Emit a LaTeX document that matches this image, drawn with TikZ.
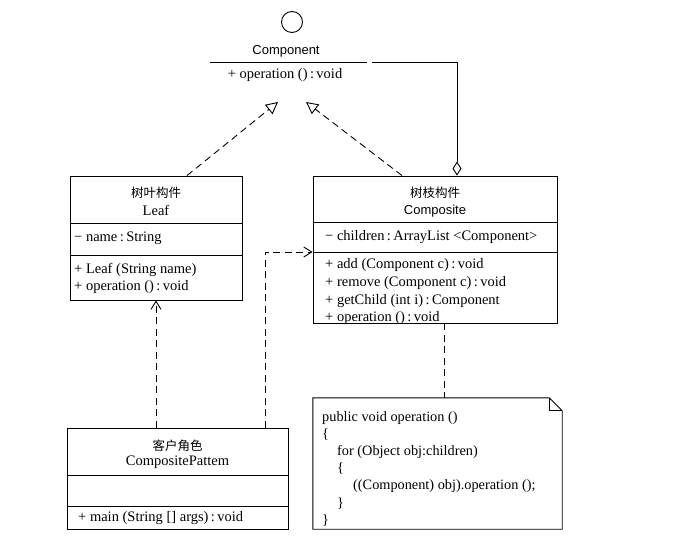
\documentclass[tikz,border=0pt]{standalone}
\usepackage{fontspec}
\setmainfont{Liberation Serif}
\newfontfamily\sansf{Liberation Sans}
\newfontfamily\cjk{Noto Sans CJK SC}
\usetikzlibrary{arrows.meta,calc}
\newcommand{\cln}{\,:\,}

\begin{document}
\begin{tikzpicture}[x=1pt,y=-1pt,
  lw/.style={line width=0.9pt},
  umlbox/.style={draw,lw,inner sep=0pt,fill=white},
  txt/.style={inner sep=0pt,anchor=west,font=\fontsize{14.5}{17}\selectfont},
  ctxt/.style={inner sep=0pt,font=\fontsize{14.5}{17}\selectfont},
  stxt/.style={inner sep=0pt,font=\sansf\fontsize{13}{16}\selectfont},
  cjktxt/.style={inner sep=0pt,font=\cjk\fontsize{12.5}{14}\selectfont},
  dashline/.style={lw,dash pattern=on 7pt off 4.5pt},
  dep/.style={dashline,-{Straight Barb[length=8pt,width=10pt,line width=0.9pt]}},
  realz/.style={dashline,-{Triangle[open,length=12pt,width=12pt,line width=0.9pt]}},
  agg/.style={lw,{Diamond[open,length=14pt,width=9pt,line width=0.9pt]}-}
]
\useasboundingbox (0,0) rectangle (684,549);
\fill[white] (0,0) rectangle (684,549);

% Component interface
\node[draw,lw,circle,minimum size=21pt,inner sep=0pt] (iface) at (292,22) {};
\node[stxt] (cname) at (286,51) {Component};
\coordinate (cl) at (210,62);
\coordinate (cr) at (367,62);
\draw[lw] (cl) -- (cr);
\node[ctxt] (cop) at (285,75) {+ operation ()\cln void};
\coordinate (tipL) at (278,102);
\coordinate (tipR) at (306,102);
\coordinate (aggstart) at (372,62);
\coordinate (aggcorner) at (457,62);

% Leaf
\node[umlbox,minimum width=172pt,minimum height=124pt] (leaf) at (156,238) {};
\draw[lw] (leaf.west |- 0,223) -- (leaf.east |- 0,223);
\draw[lw] (leaf.west |- 0,255) -- (leaf.east |- 0,255);
\node[cjktxt] (leafcn) at (156,193) {树叶构件};
\node[ctxt] (leafn) at (156,210) {Leaf};
\node[txt] (leafa) at (74,238) {− name\cln String};
\node[txt] (leafm1) at (74,270) {+ Leaf (String name)};
\node[txt] (leafm2) at (74,287) {+ operation ()\cln void};

% Composite
\node[umlbox,minimum width=244pt,minimum height=147pt] (comp) at (435,249.5) {};
\draw[lw] (comp.west |- 0,222) -- (comp.east |- 0,222);
\draw[lw] (comp.west |- 0,252) -- (comp.east |- 0,252);
\node[cjktxt] (compcn) at (435,193) {树枝构件};
\node[stxt] (compn) at (435,211) {Composite};
\node[txt] (compa) at (325,237) {− children\cln ArrayList <Component>};
\node[txt] (compm1) at (325,265) {+ add (Component c)\cln void};
\node[txt] (compm2) at (325,283) {+ remove (Component c)\cln void};
\node[txt] (compm3) at (325,301) {+ getChild (int i)\cln Component};
\node[txt] (compm4) at (325,318) {+ operation ()\cln void};

% Client
\node[umlbox,minimum width=221pt,minimum height=101pt] (client) at (177.5,478.5) {};
\draw[lw] (client.west |- 0,475) -- (client.east |- 0,475);
\draw[lw] (client.west |- 0,506) -- (client.east |- 0,506);
\node[cjktxt] (clientcn) at (177.5,446) {客户角色};
\node[ctxt] (clientn) at (177.5,462) {CompositePattem};
\node[txt] (clientm) at (78,518) {+ main (String [] args)\cln void};

% Note
\node[inner sep=0pt,minimum width=249pt,minimum height=131pt] (note) at (437.5,463.5) {};
\draw[lw,fill=white] (note.north west) -- ($(note.north east)+(-13,0)$) -- ($(note.north east)+(0,13)$) -- (note.south east) -- (note.south west) -- cycle;
\draw[lw] ($(note.north east)+(-13,0)$) -- ($(note.north east)+(-13,13)$) -- ($(note.north east)+(0,13)$);
\node[inner sep=0pt,anchor=north west,align=left,font=\fontsize{14.3}{17.2}\selectfont] (notetext) at (322,411)
 {public void operation ()\\ \{\\ \hspace*{15pt}for (Object obj:children)\\ \hspace*{15pt}\{\\ \hspace*{31pt}((Component) obj).operation ();\\ \hspace*{15pt}\}\\ \}};

% Connectors
\draw[realz] ($(leaf.north)+(31,0)$) -- (tipL);
\draw[realz] ($(comp.north)+(-33,0)$) -- (tipR);
\draw[agg] ($(comp.north)+(22,0)$) -- (aggcorner) -- (aggstart);
\draw[dep] (client.north -| leaf.south) -- (leaf.south);
\draw[dep] ($(client.north)+(87.5,0)$) |- (comp.west |- 0,252);
\path ($(comp.south)+(9,0)$) coordinate (cs);
\draw[dashline] (cs) -- (cs |- note.north);
\end{tikzpicture}
\end{document}
